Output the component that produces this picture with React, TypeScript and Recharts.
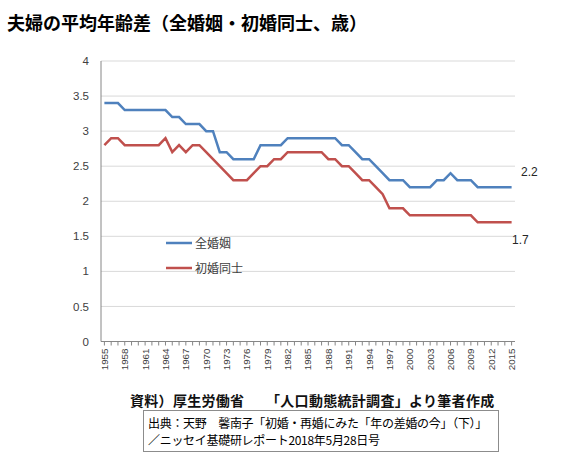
import React from 'react';
import { LineChart, Line, XAxis, YAxis, CartesianGrid, Legend, LabelList } from 'recharts';

const TITLE = '夫婦の平均年齢差（全婚姻・初婚同士、歳）';
const SOURCE_NOTE = '資料）厚生労働省　　「人口動態統計調査」より筆者作成';
const CITATION_LINES = [
  '出典：天野　馨南子「初婚・再婚にみた「年の差婚の今」（下）」',
  '／ニッセイ基礎研レポート2018年5月28日号',
];

const YEARS = [
  1955, 1956, 1957, 1958, 1959, 1960, 1961, 1962, 1963, 1964,
  1965, 1966, 1967, 1968, 1969, 1970, 1971, 1972, 1973, 1974,
  1975, 1976, 1977, 1978, 1979, 1980, 1981, 1982, 1983, 1984,
  1985, 1986, 1987, 1988, 1989, 1990, 1991, 1992, 1993, 1994,
  1995, 1996, 1997, 1998, 1999, 2000, 2001, 2002, 2003, 2004,
  2005, 2006, 2007, 2008, 2009, 2010, 2011, 2012, 2013, 2014,
  2015,
];

// 全婚姻
const ALL_MARRIAGES = [
  3.4, 3.4, 3.4, 3.3, 3.3, 3.3, 3.3, 3.3, 3.3, 3.3,
  3.2, 3.2, 3.1, 3.1, 3.1, 3.0, 3.0, 2.7, 2.7, 2.6,
  2.6, 2.6, 2.6, 2.8, 2.8, 2.8, 2.8, 2.9, 2.9, 2.9,
  2.9, 2.9, 2.9, 2.9, 2.9, 2.8, 2.8, 2.7, 2.6, 2.6,
  2.5, 2.4, 2.3, 2.3, 2.3, 2.2, 2.2, 2.2, 2.2, 2.3,
  2.3, 2.4, 2.3, 2.3, 2.3, 2.2, 2.2, 2.2, 2.2, 2.2,
  2.2,
];

// 初婚同士
const FIRST_MARRIAGES = [
  2.8, 2.9, 2.9, 2.8, 2.8, 2.8, 2.8, 2.8, 2.8, 2.9,
  2.7, 2.8, 2.7, 2.8, 2.8, 2.7, 2.6, 2.5, 2.4, 2.3,
  2.3, 2.3, 2.4, 2.5, 2.5, 2.6, 2.6, 2.7, 2.7, 2.7,
  2.7, 2.7, 2.7, 2.6, 2.6, 2.5, 2.5, 2.4, 2.3, 2.3,
  2.2, 2.1, 1.9, 1.9, 1.9, 1.8, 1.8, 1.8, 1.8, 1.8,
  1.8, 1.8, 1.8, 1.8, 1.8, 1.7, 1.7, 1.7, 1.7, 1.7,
  1.7,
];

const X_LABEL_YEARS = [
  1955, 1958, 1961, 1964, 1967, 1970, 1973, 1976, 1979, 1982, 1985,
  1988, 1991, 1994, 1997, 2000, 2003, 2006, 2009, 2012, 2015,
];
const Y_TICKS = [0, 0.5, 1, 1.5, 2, 2.5, 3, 3.5, 4];

const SERIES = [
  { key: 'all', name: '全婚姻', values: ALL_MARRIAGES, color: '#4F81BD', labelDx: 9.5, labelDy: -15 },
  { key: 'first', name: '初婚同士', values: FIRST_MARRIAGES, color: '#C0504D', labelDx: 0.5, labelDy: 17.5 },
];

const data = YEARS.map((year, i) => {
  const row: Record<string, number> = { year };
  SERIES.forEach((s) => {
    row[s.key] = s.values[i];
  });
  return row;
});

const NUM_FONT = '"Liberation Sans", Arial, sans-serif';
const JP_FONT = '"Noto Sans CJK JP", "Noto Sans", sans-serif';

const XTick = (props: any) => {
  const { x, y, payload } = props;
  const yr = payload?.value;
  if (!X_LABEL_YEARS.includes(yr)) return null;
  return (
    <g transform={`translate(${x},${y})`}>
      <text
        transform="rotate(-90)"
        textAnchor="end"
        dy="0.35em"
        fontSize={9.8}
        fill="#404040"
        fontFamily={NUM_FONT}
      >
        {yr}
      </text>
    </g>
  );
};

const makeEndLabel = (dx: number, dy: number) => (props: any) => {
  const { index, value } = props;
  if (index !== YEARS.length - 1) return null;
  const px = props.viewBox?.x ?? props.x;
  const py = props.viewBox?.y ?? props.y;
  return (
    <text
      x={px + dx}
      y={py + dy}
      dy="0.35em"
      fontSize={12}
      fill="#262626"
      fontFamily={NUM_FONT}
    >
      {Number(value).toFixed(1)}
    </text>
  );
};

const LegendContent = (props: any) => {
  const items = props.payload || [];
  return (
    <div style={{ fontFamily: JP_FONT }}>
      {items.map((item: any) => (
        <div key={item.value} style={{ display: 'flex', alignItems: 'center', height: 24.5 }}>
          <svg width={26} height={6} style={{ display: 'block' }}>
            <line x1={0} y1={3} x2={26} y2={3} stroke={item.color} strokeWidth={2.5} />
          </svg>
          <span style={{ marginLeft: 3, fontSize: 12, color: '#404040', lineHeight: '14px' }}>
            {item.value}
          </span>
        </div>
      ))}
    </div>
  );
};

export default function App() {
  return (
    <div
      style={{
        position: 'absolute',
        left: 0,
        top: 0,
        width: 588,
        height: 458,
        background: '#fff',
        overflow: 'hidden',
      }}
    >
      <div
        style={{
          position: 'absolute',
          left: 7,
          top: 12,
          fontFamily: JP_FONT,
          fontWeight: 700,
          fontSize: 18,
          lineHeight: '20px',
          color: '#000',
          whiteSpace: 'nowrap',
        }}
      >
        {TITLE}
      </div>

      <div style={{ position: 'absolute', left: 0, top: 0 }}>
        <LineChart
          width={588}
          height={458}
          data={data}
          margin={{ top: 61, right: 73, bottom: 86.5, left: 0 }}
        >
          <CartesianGrid horizontal vertical={false} stroke="#D9D9D9" strokeWidth={1} />
          <XAxis
            dataKey="year"
            type="number"
            domain={[1954.5, 2015.5]}
            ticks={YEARS}
            interval={0}
            height={30}
            axisLine={{ stroke: '#868686' }}
            tickLine={{ stroke: '#868686' }}
            tickSize={4}
            tickMargin={3}
            tick={<XTick />}
          />
          <YAxis
            type="number"
            domain={[0, 4]}
            ticks={Y_TICKS}
            interval={0}
            width={101}
            axisLine={{ stroke: '#868686' }}
            tickLine={false}
            tickSize={0}
            tickMargin={12}
            tick={{ fontSize: 11.5, fill: '#404040', fontFamily: NUM_FONT }}
          />
          <Legend
            layout="vertical"
            align="center"
            verticalAlign="middle"
            content={<LegendContent />}
            wrapperStyle={{ left: 166, top: 231, width: 'auto', height: 'auto' }}
          />
          {SERIES.map((s) => (
            <Line
              key={s.key}
              type="linear"
              dataKey={s.key}
              name={s.name}
              stroke={s.color}
              strokeWidth={2.5}
              dot={false}
              activeDot={false}
              isAnimationActive={false}
            >
              <LabelList dataKey={s.key} content={makeEndLabel(s.labelDx, s.labelDy)} />
            </Line>
          ))}
        </LineChart>
      </div>

      <div
        style={{
          position: 'absolute',
          left: 130,
          top: 391,
          fontFamily: JP_FONT,
          fontWeight: 700,
          fontSize: 14,
          letterSpacing: '0.3px',
          lineHeight: '18px',
          color: '#111',
          whiteSpace: 'nowrap',
        }}
      >
        {SOURCE_NOTE}
      </div>

      <div
        style={{
          position: 'absolute',
          left: 143,
          top: 410,
          width: 354,
          height: 40,
          border: '1px solid #8C8C8C',
          boxSizing: 'content-box',
        }}
      >
        {CITATION_LINES.map((line, i) => (
          <div
            key={i}
            style={{
              position: 'absolute',
              left: 4,
              top: 2.5 + i * 17.5,
              fontFamily: JP_FONT,
              fontSize: 12,
              letterSpacing: '-0.3px',
              lineHeight: '17px',
              color: '#000',
              whiteSpace: 'nowrap',
            }}
          >
            {line}
          </div>
        ))}
      </div>
    </div>
  );
}
